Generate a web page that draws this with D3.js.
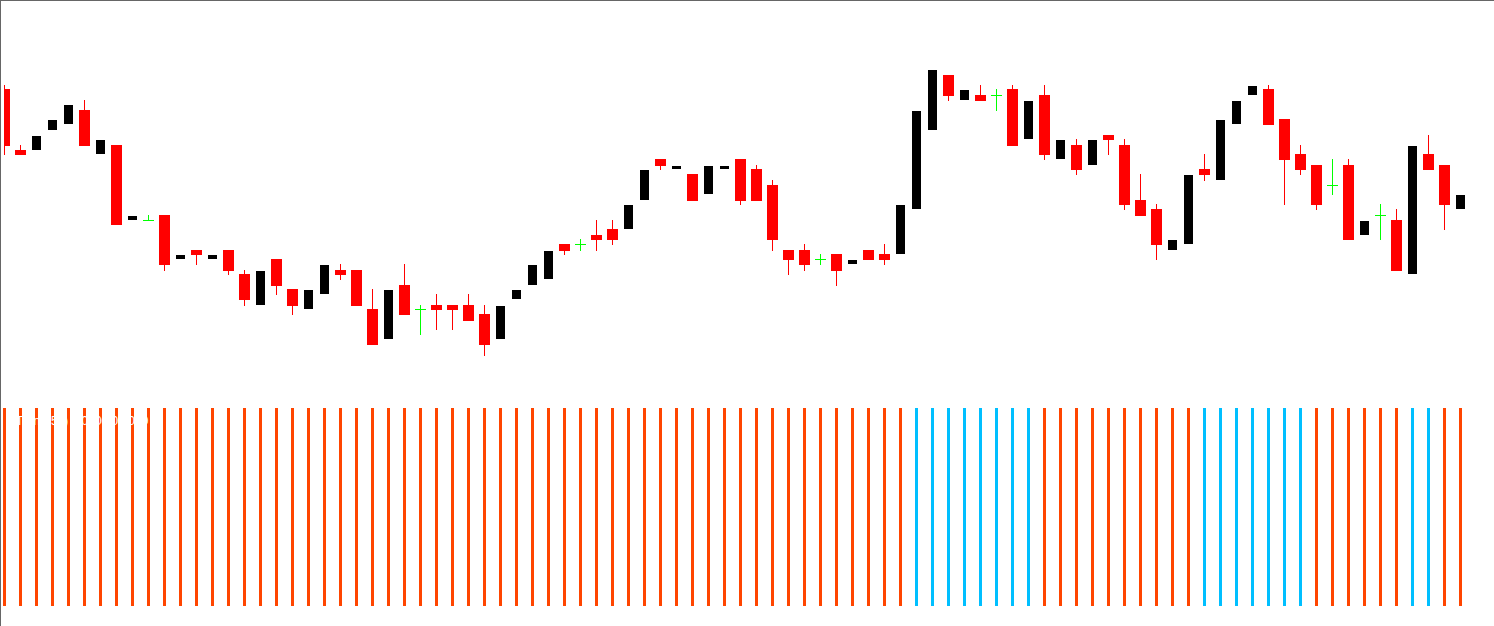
<!DOCTYPE html>
<html>
<head>
<meta charset="utf-8">
<script src="https://cdn.jsdelivr.net/npm/d3@7"></script>
<style>
html,body{margin:0;padding:0;background:#fff;overflow:hidden;}
svg{display:block;}
</style>
</head>
<body>
<svg id="chart" width="1494" height="626"></svg>
<script>
// Candle data (price units)
const openP  = [311,250,250,270,276,290,246,255,180,180,185,141,150,141,150,126,95,141,111,91,106,130,130,91,61,115,91,95,95,95,86,61,101,115,121,156,156,165,171,171,200,241,231,226,206,231,241,231,215,150,150,141,146,136,150,146,146,191,270,325,300,305,305,311,261,305,241,255,235,265,255,200,191,150,156,231,220,276,305,311,281,246,235,215,235,165,185,180,126,246,235,191];
const highP  = [315,255,264,280,295,300,260,255,184,185,185,145,150,145,150,130,129,141,111,110,135,136,130,111,110,136,95,106,95,106,95,94,110,135,149,156,161,180,180,195,230,241,234,226,234,234,241,235,220,150,156,146,146,140,150,156,195,289,330,325,310,315,311,315,299,315,260,261,260,265,261,226,196,160,225,246,280,299,314,315,281,255,235,241,241,179,196,191,254,265,235,205];
const lowP   = [245,245,250,270,276,254,246,175,180,180,129,141,135,141,125,94,95,105,85,91,106,120,94,55,61,85,65,70,70,79,44,61,101,115,121,145,149,149,155,171,200,230,231,199,206,231,195,199,149,125,129,135,114,136,140,135,146,191,270,299,300,299,289,254,261,240,241,225,235,245,190,184,140,150,156,219,220,276,305,275,195,225,190,205,160,165,160,129,126,230,170,191];
const closeP = [254,245,264,280,295,254,260,175,184,180,135,145,145,145,129,100,129,114,94,110,135,125,94,55,110,85,91,90,90,79,55,94,110,135,149,149,156,160,160,195,230,234,234,199,234,234,199,199,160,140,135,141,129,140,140,140,195,289,330,304,310,299,305,254,299,245,260,230,260,260,195,184,155,160,225,225,280,299,314,275,240,230,195,215,160,179,185,129,254,230,195,205];
// Indicator histogram: 1 = up (blue), -1 = down (orange)
const trendDir = [-1,-1,-1,-1,-1,-1,-1,-1,-1,-1,-1,-1,-1,-1,-1,-1,-1,-1,-1,-1,-1,-1,-1,-1,-1,-1,-1,-1,-1,-1,-1,-1,-1,-1,-1,-1,-1,-1,-1,-1,-1,-1,-1,-1,-1,-1,-1,-1,-1,-1,-1,-1,-1,-1,-1,-1,-1,1,1,1,1,1,1,1,1,-1,-1,-1,-1,-1,-1,-1,-1,-1,-1,1,1,1,1,1,1,1,-1,-1,-1,-1,-1,-1,1,1,-1,-1];
const histValue = trendDir.map(() => 1);
const indicatorLabel = "Trend(50) 1.0000 0.0000";

const svg = d3.select("#chart");
const n = openP.length;
const x = d3.scaleLinear().domain([0, n - 1]).range([4.5, 1460.5]);
const y = d3.scaleLinear().domain([0, 400]).range([400, 0]);
const yh = d3.scaleLinear().domain([0, 1]).range([606, 408]);

svg.append("defs").append("clipPath").attr("id","plotclip")
  .append("rect").attr("x",4).attr("y",1).attr("width",1490).attr("height",400);

const candles = d3.range(n).map(i => ({i, o: openP[i], h: highP[i], l: lowP[i], c: closeP[i]}));
const g = svg.append("g").attr("clip-path","url(#plotclip)");

const RED = "#ff0000", BLACK = "#000000", GREEN = "#00ff00";
function col(d){ return d.c > d.o ? BLACK : (d.c < d.o ? RED : GREEN); }

// wicks
g.selectAll("line.wick").data(candles).join("line")
  .attr("class","wick")
  .attr("x1", d => x(d.i)).attr("x2", d => x(d.i))
  .attr("y1", d => y(d.h)).attr("y2", d => y(d.l))
  .attr("stroke", d => col(d)).attr("stroke-width", 1)
  .attr("shape-rendering","crispEdges");

// bodies
g.selectAll("rect.body").data(candles.filter(d => d.o !== d.c)).join("rect")
  .attr("class","body")
  .attr("x", d => x(d.i) - (d.c > d.o ? 4.5 : 5.5))
  .attr("width", d => d.c > d.o ? 9 : 11)
  .attr("y", d => y(Math.max(d.o, d.c)))
  .attr("height", d => Math.max(1, y(Math.min(d.o, d.c)) - y(Math.max(d.o, d.c))))
  .attr("fill", d => col(d))
  .attr("shape-rendering","crispEdges");

// doji bars
g.selectAll("line.doji").data(candles.filter(d => d.o === d.c)).join("line")
  .attr("class","doji")
  .attr("x1", d => x(d.i) - 5.5).attr("x2", d => x(d.i) + 5.5)
  .attr("y1", d => Math.round(y(d.o)) + 0.5).attr("y2", d => Math.round(y(d.o)) + 0.5)
  .attr("stroke", GREEN).attr("stroke-width", 1)
  .attr("shape-rendering","crispEdges");

// histogram
svg.selectAll("rect.hist").data(d3.range(n)).join("rect")
  .attr("class","hist")
  .attr("x", i => x(i) - 1.5)
  .attr("width", 3)
  .attr("y", i => yh(histValue[i]))
  .attr("height", i => yh(0) - yh(histValue[i]))
  .attr("fill", i => trendDir[i] > 0 ? "#00bfff" : "#ff4500")
  .attr("shape-rendering","crispEdges");

svg.append("text")
  .attr("x", 16).attr("y", 425)
  .attr("font-family","Liberation Sans, Arial, sans-serif")
  .attr("font-size", 12)
  .attr("fill", "#ffffff")
  .text(indicatorLabel);

// frame (left and top)
svg.append("line").attr("x1",0.5).attr("x2",0.5).attr("y1",0).attr("y2",626)
  .attr("stroke","#666").attr("stroke-width",1);
svg.append("line").attr("x1",0).attr("x2",1494).attr("y1",0.5).attr("y2",0.5)
  .attr("stroke","#666").attr("stroke-width",1);
</script>
</body>
</html>
